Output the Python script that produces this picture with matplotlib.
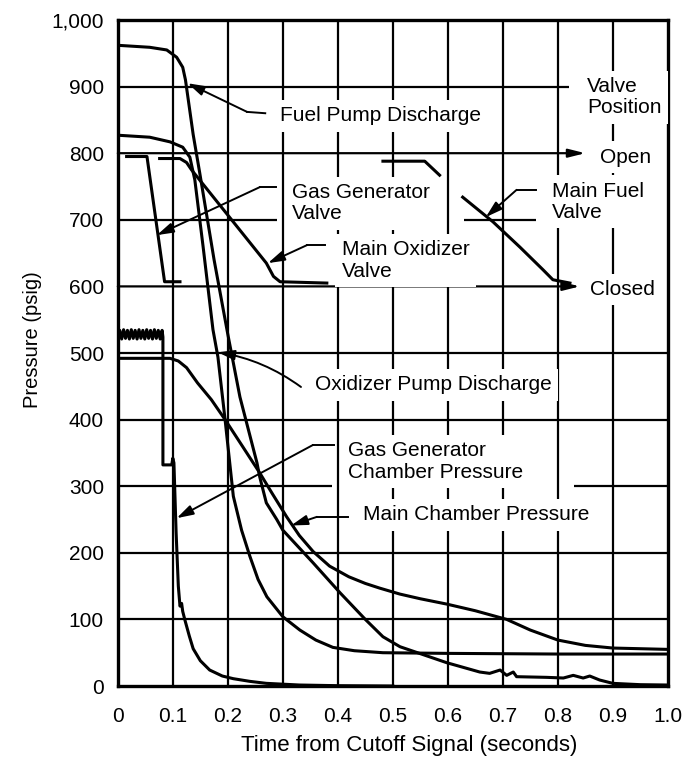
import numpy as np
import matplotlib.pyplot as plt

plt.rcParams['font.family'] = ['Liberation Sans', 'DejaVu Sans']

# ---- values: time (s) vs pressure (psig) ----
x_ticks = [0, 0.1, 0.2, 0.3, 0.4, 0.5, 0.6, 0.7, 0.8, 0.9, 1.0]
x_tick_labels = ['0', '0.1', '0.2', '0.3', '0.4', '0.5', '0.6', '0.7', '0.8', '0.9', '1.0']
y_ticks = [0, 100, 200, 300, 400, 500, 600, 700, 800, 900, 1000]
y_tick_labels = ['0', '100', '200', '300', '400', '500', '600', '700', '800', '900', '1,000']

# fuel pump discharge
fpd_t = [0.0, 0.058, 0.089, 0.107, 0.118, 0.123, 0.137, 0.149, 0.175, 0.200, 0.222,
         0.253, 0.258, 0.270, 0.289, 0.300, 0.355, 0.404, 0.450, 0.482, 0.513, 0.598,
         0.658, 0.676, 0.695, 0.707, 0.719, 0.725, 0.780, 0.810, 0.828, 0.846, 0.858,
         0.876, 0.900, 0.950, 1.0]
fpd_p = [962, 959, 955, 944, 929, 910, 828, 770, 640, 528, 434,
         335, 314, 275, 250, 234, 185, 140, 100, 74, 59, 35,
         21, 19, 24, 16, 21, 14, 13, 12, 16, 12, 15,
         9, 4, 2, 1.5]

# oxidizer pump discharge
opd_t = [0.0, 0.058, 0.095, 0.118, 0.131, 0.136, 0.140, 0.155, 0.173, 0.182, 0.195,
         0.210, 0.225, 0.240, 0.255, 0.271, 0.300, 0.331, 0.360, 0.391, 0.430, 0.482,
         0.600, 0.800, 1.0]
opd_p = [827, 824, 817, 809, 794, 775, 760, 660, 535, 494, 400,
         285, 234, 195, 160, 134, 104, 84, 69, 58, 53, 50,
         49, 48, 48]

# main chamber pressure
mcp_t = [0.0, 0.095, 0.110, 0.125, 0.145, 0.170, 0.195, 0.225, 0.258, 0.280, 0.307,
         0.330, 0.355, 0.385, 0.420, 0.450, 0.476, 0.513, 0.550, 0.598, 0.650, 0.707,
         0.750, 0.800, 0.850, 0.900, 0.950, 1.0]
mcp_p = [492, 492, 488, 478, 455, 430, 400, 362, 320, 290, 254,
         226, 202, 180, 164, 154, 147, 138, 131, 123, 113, 100,
         84, 69, 61, 57, 56, 55]

# gas generator chamber pressure (ripple at the start)
ggc_t = [0.000, 0.0035, 0.007, 0.0105, 0.014, 0.0175, 0.021, 0.0245, 0.028, 0.0315,
         0.035, 0.0385, 0.042, 0.0455, 0.049, 0.0525, 0.056, 0.0595, 0.063, 0.0665,
         0.070, 0.0735, 0.077, 0.0805, 0.082, 0.082, 0.098, 0.100, 0.102, 0.106,
         0.110, 0.113, 0.116, 0.118, 0.122, 0.130, 0.137, 0.150, 0.167, 0.190,
         0.210, 0.240, 0.270, 0.330, 0.400, 0.500]
ggc_p = [522, 534, 521, 535, 522, 534, 521, 535, 522, 534,
         521, 535, 522, 534, 521, 535, 522, 534, 521, 535,
         522, 534, 521, 534, 524, 332, 332, 342, 335, 230,
         150, 120, 124, 112, 99, 75, 56, 38, 24, 15,
         11, 7, 4, 1.5, 0.5, 0]

# valve positions, drawn on the pressure scale (open = 800, closed = 600)
ggv_t = [0.016, 0.053, 0.085, 0.113]
ggv_p = [795, 795, 607, 607]
mov_t = [0.076, 0.113, 0.125, 0.134, 0.270, 0.283, 0.295, 0.380]
mov_p = [792, 792, 786, 775, 635, 615, 607, 605]
mfv_t = [0.482, 0.558, 0.585, np.nan, 0.627, 0.682, 0.731, 0.773, 0.791, 0.822]
mfv_p = [788, 788, 767, np.nan, 734, 697, 659, 625, 610, 605]

fig = plt.figure(figsize=(6.89, 7.63), dpi=100)
ax = fig.add_axes([0.171, 0.1009, 0.7983, 0.8729])
ax.set_xlim(0, 1)
ax.set_ylim(0, 1000)

# grid, with the breaks the original leaves around its labels
grid_lw = 1.6
for xv in x_ticks[1:-1]:
    ax.axvline(xv, color='black', lw=grid_lw, zorder=1)
row_spans = {700: [(0, 0.29), (0.63, 0.76)], 300: [(0, 0.39), (0.83, 1.0)],
             900: [(0, 0.82)]}
for yv in [100, 200, 300, 400, 500, 700, 900]:
    for a, b in row_spans.get(yv, [(0, 1)]):
        ax.plot([a, b], [yv, yv], color='black', lw=grid_lw, zorder=1,
                solid_capstyle='butt')
# "Open" and "Closed" reference lines end in arrows
for yv, xend in [(800, 0.85), (600, 0.84)]:
    ax.annotate('', xy=(xend, yv), xytext=(0, yv), zorder=1,
                arrowprops=dict(arrowstyle='-|>,head_length=1.0,head_width=0.25',
                                color='black', lw=grid_lw, shrinkA=0, shrinkB=0))

curve_lw = 2.2
for t, p in [(fpd_t, fpd_p), (opd_t, opd_p), (mcp_t, mcp_p), (ggc_t, ggc_p),
             (ggv_t, ggv_p), (mov_t, mov_p), (mfv_t, mfv_p)]:
    ax.plot(t, p, color='black', lw=curve_lw, zorder=5, solid_joinstyle='round')

box = dict(facecolor='white', edgecolor='none', boxstyle='square,pad=0.3')
fs = 15
arrow_kw = dict(arrowstyle='-|>,head_length=1.0,head_width=0.3', color='black',
                lw=1.4, shrinkA=0, shrinkB=0)

# label text, stub start, corner, arrow tip
labels = [
    ('Fuel Pump Discharge', (0.295, 856), (0.268, 860), (0.235, 862), (0.127, 905)),
    ('Gas Generator\nValve', (0.316, 725), (0.288, 749), (0.258, 749), (0.071, 677)),
    ('Main Oxidizer\nValve', (0.407, 639), (0.376, 662), (0.344, 662), (0.273, 635)),
    ('Main Fuel\nValve', (0.789, 727), (0.760, 745), (0.725, 745), (0.669, 704)),
    ('Gas Generator\nChamber Pressure', (0.418, 337), (0.393, 362), (0.355, 362),
     (0.107, 252)),
    ('Main Chamber Pressure', (0.445, 257), (0.418, 254), (0.362, 254), (0.315, 241)),
]
for txt, pos, s0, s1, tip in labels:
    ax.text(pos[0], pos[1], txt, fontsize=fs, ha='left', va='center',
            linespacing=1.15, bbox=box, zorder=3)
    ax.plot([s0[0], s1[0]], [s0[1], s1[1]], color='black', lw=1.4, zorder=6)
    ax.annotate('', xy=tip, xytext=s1, arrowprops=arrow_kw, zorder=6)

ax.text(0.358, 452, 'Oxidizer Pump Discharge', fontsize=fs, ha='left', va='center',
        bbox=box, zorder=3)
ax.annotate('', xy=(0.182, 501), xytext=(0.333, 449), zorder=6,
            arrowprops=dict(arrow_kw, connectionstyle='arc3,rad=0.12'))

ax.text(0.853, 884, 'Valve\nPosition', fontsize=fs, ha='left', va='center',
        linespacing=1.15, bbox=box, zorder=3)
ax.text(0.876, 794, 'Open', fontsize=fs, ha='left', va='center', bbox=box, zorder=3)
ax.text(0.858, 595, 'Closed', fontsize=fs, ha='left', va='center', bbox=box, zorder=3)

ax.set_xticks(x_ticks)
ax.set_xticklabels(x_tick_labels)
ax.set_yticks(y_ticks)
ax.set_yticklabels(y_tick_labels)
ax.tick_params(axis='both', length=0, labelsize=15)
ax.tick_params(axis='x', pad=15)
ax.tick_params(axis='y', pad=10)
for sp in ax.spines.values():
    sp.set_linewidth(2.4)

ax.set_xlabel('Time from Cutoff Signal (seconds)', fontsize=16)
ax.set_ylabel('Pressure (psig)', fontsize=14.5)
ax.xaxis.set_label_coords(0.53, -0.073)
ax.yaxis.set_label_coords(-0.138, 0.52)

fig.savefig('out.png', dpi=100)
